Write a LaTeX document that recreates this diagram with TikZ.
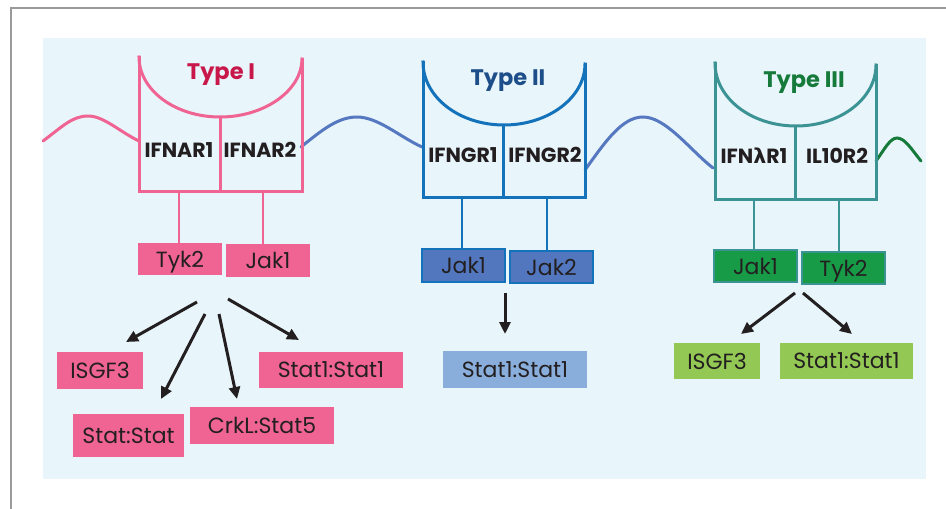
\documentclass[tikz,border=0pt]{standalone}
\usepackage{fontspec}
\setmainfont{Poppins}
\usetikzlibrary{arrows.meta}
\definecolor{frame}{HTML}{9A9A9A}
\definecolor{bgblue}{HTML}{E8F5FB}
\definecolor{pinkc}{HTML}{F06493}
\definecolor{pinktxt}{HTML}{C8184A}
\definecolor{blueln}{HTML}{1372B9}
\definecolor{bluewave}{HTML}{5578C0}
\definecolor{bluebox}{HTML}{5277BF}
\definecolor{bluetxt}{HTML}{1D4E89}
\definecolor{lightblue}{HTML}{8AAEDC}
\definecolor{tealln}{HTML}{3C9393}
\definecolor{greentxt}{HTML}{157A3A}
\definecolor{greenbox}{HTML}{179B47}
\definecolor{lightgreen}{HTML}{92C853}
\definecolor{ink}{HTML}{231F20}
\tikzset{
  rec/.style={line width=3pt, line cap=rect},
  wave/.style={line width=3pt, line cap=round},
  stem/.style={line width=2.5pt},
  sbox/.style={inner sep=0pt, text=ink, font=\fontsize{22}{22}\selectfont, text depth=0pt},
  pinkbox/.style={sbox, fill=pinkc},
  blueb/.style={sbox, fill=bluebox, draw=blueln, line width=2pt},
  greenb/.style={sbox, fill=greenbox, draw=tealln, line width=2pt},
  lbbox/.style={sbox, fill=lightblue},
  lgbox/.style={sbox, fill=lightgreen},
  rlabel/.style={text=ink, font=\fontsize{20.5}{20.5}\selectfont\bfseries, inner sep=0pt},
  tlabel/.style={font=\fontsize{22.5}{22.5}\selectfont\bfseries, inner sep=0pt},
  sig/.style={line width=3pt, draw=ink, -{Triangle[length=12pt,width=11pt]}}
}
\begin{document}
\begin{tikzpicture}[x=1pt,y=-1pt]
\useasboundingbox (0,0) rectangle (946,509);
% frame and background
\draw[frame, line width=2.5pt] (11,509) -- (11,8) -- (946,8);
\fill[bgblue] (43,38) rectangle (926,479);

% waves
\draw[wave, pinkc] (43,141) .. controls (62,127) and (72,116) .. (88,116) .. controls (104,116) and (120,132) .. (139,141);
\draw[wave, bluewave] (301,147) .. controls (322,130) and (338,117) .. (357,117) .. controls (378,117) and (400,137) .. (422,147);
\draw[wave, bluewave] (585,170) .. controls (605,142) and (622,117) .. (643,117) .. controls (666,117) and (690,150) .. (713,168);
\draw[wave, greentxt] (876,161) .. controls (884,150) and (890,138) .. (897,138) .. controls (905,138) and (912,150) .. (921,161);

% Type I receptor
\draw[rec, pinkc] (139,57) -- (139,191) -- (302,191) -- (302,59);
\draw[rec, pinkc] (139,57) .. controls (139,90) and (175,117) .. (220,117) .. controls (265,117) and (302,90) .. (302,59);
\draw[rec, pinkc] (220,117) -- (220,191);
\node[tlabel, text=pinktxt] (ty1) at (221,75) {Type I};
\node[rlabel] (ifnar1) at (179,150) {IFNAR1};
\node[rlabel] (ifnar2) at (260,150) {IFNAR2};
\coordinate (r1a) at (179,191);
\coordinate (r1b) at (263,191);

% Type II receptor
\draw[rec, blueln] (423,62) -- (423,197) -- (585,197) -- (585,64);
\draw[rec, blueln] (423,62) .. controls (423,97) and (459,125) .. (504,125) .. controls (549,125) and (585,97) .. (585,64);
\draw[rec, blueln] (503,125) -- (503,197);
\node[tlabel, text=bluetxt] (ty2) at (508,81) {Type II};
\node[rlabel] (ifngr1) at (463,155) {IFNGR1};
\node[rlabel] (ifngr2) at (545,155) {IFNGR2};
\coordinate (r2a) at (462,197);
\coordinate (r2b) at (547,197);

% Type III receptor
\draw[rec, tealln] (715,63) -- (715,199) -- (876,199) -- (876,65);
\draw[rec, tealln] (715,63) .. controls (715,98) and (751,126) .. (796,126) .. controls (841,126) and (876,98) .. (876,65);
\draw[rec, tealln] (795,126) -- (795,199);
\node[tlabel, text=greentxt] (ty3) at (804,83) {Type III};
\node[rlabel] (ifnlr1) at (754,156) {IFN\fontspec{DejaVu Sans}\bfseries λ\fontspec{Poppins}\bfseries R1};
\node[rlabel] (il10r2) at (837,156) {IL10R2};
\coordinate (r3a) at (754,199);
\coordinate (r3b) at (839,199);

% Type I boxes
\node[pinkbox, minimum width=84pt, minimum height=32pt] (t1tyk2) at (180,259) {Tyk2};
\node[pinkbox, minimum width=84pt, minimum height=33pt] (t1jak1) at (268,260.5) {Jak1};
\node[pinkbox, minimum width=86pt, minimum height=37pt] (t1isgf3) at (100,370.5) {ISGF3};
\node[pinkbox, minimum width=111pt, minimum height=43pt] (t1ss) at (128.5,435.5) {Stat:Stat};
\node[pinkbox, minimum width=144pt, minimum height=37pt] (t1crkl) at (262,425.5) {CrkL:Stat5};
\node[pinkbox, minimum width=144pt, minimum height=36pt] (t1s11) at (331,370) {Stat1:Stat1};

% Type II boxes
\node[blueb, minimum width=83pt, minimum height=33pt] (t2jak1) at (463.5,265.5) {Jak1};
\node[blueb, minimum width=83pt, minimum height=32pt] (t2jak2) at (551.5,267) {Jak2};
\node[lbbox, minimum width=144pt, minimum height=37pt] (t2s11) at (515,369.5) {Stat1:Stat1};

% Type III boxes
\node[greenb, minimum width=83pt, minimum height=32pt] (t3jak1) at (755.5,266) {Jak1};
\node[greenb, minimum width=83pt, minimum height=32pt] (t3tyk2) at (843.5,268) {Tyk2};
\node[lgbox, minimum width=86pt, minimum height=36pt] (t3isgf3) at (717,361) {ISGF3};
\node[lgbox, minimum width=133pt, minimum height=36pt] (t3s11) at (846.5,361) {Stat1:Stat1};

% stems
\draw[stem, pinkc] (r1a) -- (r1a |- t1tyk2.north);
\draw[stem, pinkc] (r1b) -- (r1b |- t1jak1.north);
\draw[stem, blueln] (r2a) -- (r2a |- t2jak1.north);
\draw[stem, blueln] (r2b) -- (r2b |- t2jak2.north);
\draw[stem, tealln] (r3a) -- (r3a |- t3jak1.north);
\draw[stem, tealln] (r3b) -- (r3b |- t3tyk2.north);

% signalling arrows
\coordinate (a1s) at (197,302); \coordinate (a1e) at (126,342);
\coordinate (a2s) at (205,314); \coordinate (a2e) at (161,399);
\coordinate (a3s) at (219,314); \coordinate (a3e) at (237,399);
\coordinate (a4s) at (228,299); \coordinate (a4e) at (299,340);
\draw[sig] (a1s) -- (a1e);
\draw[sig] (a2s) -- (a2e);
\draw[sig] (a3s) -- (a3e);
\draw[sig] (a4s) -- (a4e);
\coordinate (b1s) at (505,293); \coordinate (b1e) at (505,334);
\draw[sig] (b1s) -- (b1e);
\coordinate (c1s) at (795,293); \coordinate (c1e) at (741,334);
\coordinate (c2s) at (803,293); \coordinate (c2e) at (852,334);
\draw[sig] (c1s) -- (c1e);
\draw[sig] (c2s) -- (c2e);
\end{tikzpicture}
\end{document}
